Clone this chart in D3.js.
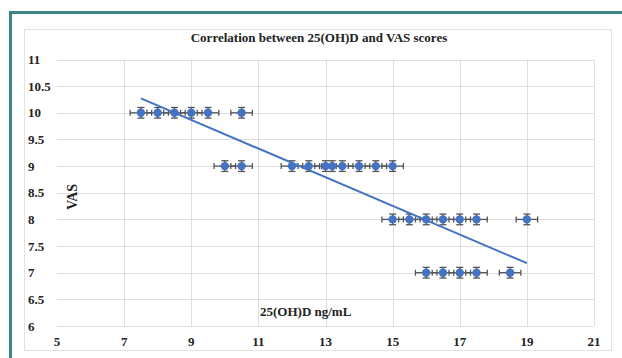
<!DOCTYPE html>
<html>
<head>
<meta charset="utf-8">
<script src="https://cdn.jsdelivr.net/npm/d3@7"></script>
<style>
    body { margin: 0; background: #fff; }
    svg text { font-family: 'Liberation Serif', 'DejaVu Serif', serif; font-weight: bold; }
</style>
</head>
<body>
<div id="chart"></div>
<script>
    // 25(OH)D (ng/mL) and VAS score of each patient
    var vitaminD = [7.5, 8, 8.5, 9, 9.5, 10.5,
        10, 10.5, 12, 12.5, 13, 13.2, 13.5, 14, 14.5, 15,
        15, 15.5, 16, 16.5, 17, 17.5, 19,
        16, 16.5, 17, 17.5, 18.5];
    var vasScore = [10, 10, 10, 10, 10, 10,
        9, 9, 9, 9, 9, 9, 9, 9, 9, 9,
        8, 8, 8, 8, 8, 8, 8,
        7, 7, 7, 7, 7];
    var xErr = 0.32, yErr = 0.1;
    var xTicks = [5, 7, 9, 11, 13, 15, 17, 19, 21];
    var yTicks = [6, 6.5, 7, 7.5, 8, 8.5, 9, 9.5, 10, 10.5, 11];

    var width = 622, height = 358;
    var blue = "#4472c4", errColor = "#555";
    var font = "'Liberation Serif', 'DejaVu Serif', serif";

    var svg = d3.select("#chart").append("svg")
        .attr("width", width)
        .attr("height", height);

    // outer teal frame
    svg.append("path")
        .attr("d", "M10.5," + height + "V12.5H" + width)
        .attr("fill", "none")
        .attr("stroke", "#3b8585")
        .attr("stroke-width", 3);

    // chart area border
    svg.append("rect")
        .attr("x", 24.5).attr("y", 29.5)
        .attr("width", 587).attr("height", 321)
        .attr("fill", "#fff")
        .attr("stroke", "#e3e3e3");

    var x = d3.scaleLinear().domain([5, 21]).range([57, 594]);
    var y = d3.scaleLinear().domain([6, 11]).range([326, 59.5]);

    // gridlines
    svg.append("g").selectAll("line")
        .data(yTicks)
        .enter().append("line")
        .attr("x1", x(5)).attr("x2", x(21))
        .attr("y1", function(d) { return Math.round(y(d)) + 0.5; })
        .attr("y2", function(d) { return Math.round(y(d)) + 0.5; })
        .attr("stroke", "#dedede");

    svg.append("g").selectAll("line")
        .data(xTicks.slice(1))
        .enter().append("line")
        .attr("x1", function(d) { return Math.round(x(d)) + 0.5; })
        .attr("x2", function(d) { return Math.round(x(d)) + 0.5; })
        .attr("y1", y(11)).attr("y2", y(6))
        .attr("stroke", "#dedede");

    var txt = svg.append("g")
        .attr("font-family", font)
        .attr("font-weight", "bold")
        .attr("fill", "#222");

    // tick labels
    txt.append("g").selectAll("text")
        .data(yTicks)
        .enter().append("text")
        .attr("x", 28)
        .attr("y", function(d) { return y(d) + 4.5; })
        .attr("font-size", 13)
        .text(function(d) { return d; });

    txt.append("g").selectAll("text")
        .data(xTicks)
        .enter().append("text")
        .attr("x", function(d) { return x(d); })
        .attr("y", 346)
        .attr("text-anchor", "middle")
        .attr("font-size", 13)
        .text(function(d) { return d; });

    // titles
    txt.append("text")
        .attr("x", 319).attr("y", 42)
        .attr("text-anchor", "middle")
        .attr("font-size", 13)
        .text("Correlation between 25(OH)D and VAS scores");

    txt.append("text")
        .attr("transform", "translate(77,197) rotate(-90)")
        .attr("text-anchor", "middle")
        .attr("font-size", 14)
        .text("VAS");

    txt.append("text")
        .attr("x", 260).attr("y", 316)
        .attr("font-size", 13)
        .text("25(OH)D ng/mL");

    var points = vitaminD.map(function(v, i) { return { x: v, y: vasScore[i] }; });

    // linear trendline (least squares)
    var mx = d3.mean(vitaminD), my = d3.mean(vasScore);
    var sxy = d3.sum(points, function(p) { return (p.x - mx) * (p.y - my); });
    var sxx = d3.sum(points, function(p) { return (p.x - mx) * (p.x - mx); });
    var slope = sxy / sxx, icpt = my - slope * mx;
    var ext = d3.extent(vitaminD);

    // error bars
    var err = svg.append("g")
        .attr("stroke", errColor)
        .attr("stroke-width", 1.3);

    points.forEach(function(p) {
        var cx = x(p.x), cy = y(p.y);
        var x0 = x(p.x - xErr), x1 = x(p.x + xErr);
        var y0 = y(p.y - yErr), y1 = y(p.y + yErr);
        err.append("line").attr("x1", x0).attr("x2", x1).attr("y1", cy).attr("y2", cy);
        err.append("line").attr("x1", x0).attr("x2", x0).attr("y1", cy - 3).attr("y2", cy + 3);
        err.append("line").attr("x1", x1).attr("x2", x1).attr("y1", cy - 3).attr("y2", cy + 3);
        err.append("line").attr("x1", cx).attr("x2", cx).attr("y1", y0).attr("y2", y1);
        err.append("line").attr("x1", cx - 3.5).attr("x2", cx + 3.5).attr("y1", y0).attr("y2", y0);
        err.append("line").attr("x1", cx - 3.5).attr("x2", cx + 3.5).attr("y1", y1).attr("y2", y1);
    });

    // markers
    svg.append("g").selectAll("circle")
        .data(points)
        .enter().append("circle")
        .attr("cx", function(d) { return x(d.x); })
        .attr("cy", function(d) { return y(d.y); })
        .attr("r", 4.2)
        .attr("fill", blue);

    svg.append("line")
        .attr("x1", x(ext[0])).attr("y1", y(slope * ext[0] + icpt))
        .attr("x2", x(ext[1])).attr("y2", y(slope * ext[1] + icpt))
        .attr("stroke", blue)
        .attr("stroke-width", 2);
</script>
</body>
</html>
